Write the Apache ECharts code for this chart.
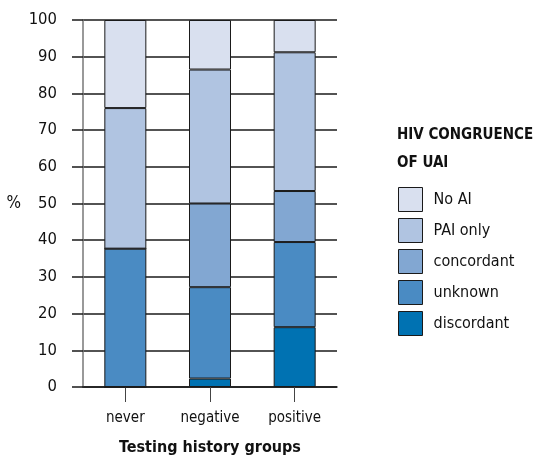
<!DOCTYPE html>
<html>
<head>
<meta charset="utf-8">
<script src="https://cdn.jsdelivr.net/npm/echarts@6/dist/echarts.min.js"></script>
<style>
  html, body { margin: 0; padding: 0; background: #fff; }
  #chart { width: 535px; height: 456px; }
</style>
</head>
<body>
<div id="chart"></div>
<script>
var groups = ['never', 'negative', 'positive'];
var yTicks = [0, 10, 20, 30, 40, 50, 60, 70, 80, 90, 100];

// stacked from bottom to top, percent
var discordant = [0, 2.3, 16.3];
var unknown = [37.7, 24.9, 23.2];
var concordant = [0, 22.8, 13.9];
var paiOnly = [38.3, 36.5, 37.8];
var noAI = [24.0, 13.5, 8.8];

var legendOrder = ['No AI', 'PAI only', 'concordant', 'unknown', 'discordant'];

var font = '"Liberation Sans Narrow", "DejaVu Sans Condensed", sans-serif';

function bar(name, data, color) {
    return {
        name: name,
        type: 'bar',
        stack: 'uai',
        barWidth: 42,
        data: data,
        itemStyle: {color: color, borderColor: '#1a1a1a', borderWidth: 1},
        emphasis: {disabled: true}
    };
}

var chart = echarts.init(document.getElementById('chart'), null, {renderer: 'canvas'});
chart.setOption({
    animation: false,
    backgroundColor: '#fff',
    textStyle: {fontFamily: font},
    title: {
        text: 'HIV CONGRUENCE\nOF UAI',
        left: 397, top: 121,
        padding: 0,
        textStyle: {fontFamily: font, fontWeight: 'bold', fontSize: 15, lineHeight: 28, color: '#111'}
    },
    legend: {
        data: legendOrder,
        orient: 'vertical',
        left: 398, top: 187,
        padding: 0,
        icon: 'rect',
        itemWidth: 24, itemHeight: 24, itemGap: 6,
        itemStyle: {borderColor: '#1a1a1a', borderWidth: 1},
        textStyle: {fontFamily: font, fontSize: 16, color: '#111', padding: [0, 0, 0, 6]}
    },
    grid: {left: 83, right: 198, top: 20, bottom: 69, outerBoundsMode: 'none'},
    xAxis: {
        type: 'category',
        data: groups,
        name: 'Testing history groups',
        nameLocation: 'middle',
        nameGap: 53,
        nameTextStyle: {fontFamily: font, fontWeight: 'bold', fontSize: 16, color: '#111'},
        axisLine: {show: true, lineStyle: {color: '#1a1a1a', width: 1.5}},
        axisTick: {show: true, alignWithLabel: true, length: 15, lineStyle: {color: '#444'}},
        axisLabel: {fontFamily: font, fontSize: 15, color: '#111', margin: 24}
    },
    yAxis: {
        type: 'value',
        min: yTicks[0], max: yTicks[yTicks.length - 1], interval: 10,
        name: '%',
        nameLocation: 'middle',
        nameRotate: 0,
        nameGap: 62,
        nameTextStyle: {fontFamily: font, fontSize: 17, color: '#111'},
        axisLine: {show: true, lineStyle: {color: '#777', width: 1.5}},
        axisTick: {show: true, length: 11, lineStyle: {color: '#1a1a1a', width: 1.5}},
        axisLabel: {fontFamily: font, fontSize: 16.5, color: '#111', margin: 26},
        splitLine: {show: true, lineStyle: {color: '#1a1a1a', width: 1.5}}
    },
    series: [
        bar('discordant', discordant, '#0072b2'),
        bar('unknown', unknown, '#4a8bc3'),
        bar('concordant', concordant, '#82a7d2'),
        bar('PAI only', paiOnly, '#b0c4e1'),
        bar('No AI', noAI, '#d9e0ef')
    ]
});
</script>
</body>
</html>
